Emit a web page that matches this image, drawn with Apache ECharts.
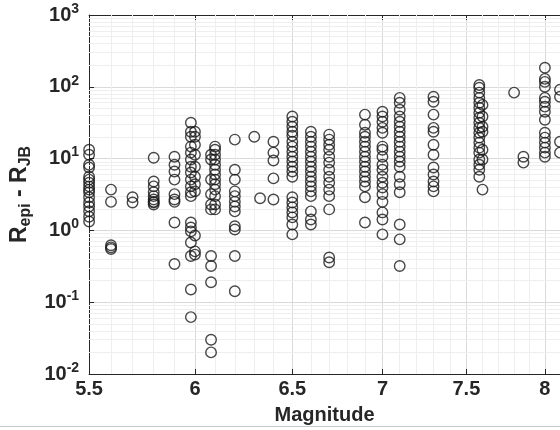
<!DOCTYPE html>
<html>
<head>
<meta charset="utf-8">
<script src="https://cdn.jsdelivr.net/npm/echarts@6/dist/echarts.min.js"></script>
<style>
html, body { margin: 0; padding: 0; background: #fff; }
#main { width: 560px; height: 430px; }
</style>
</head>
<body>
<div id="main"></div>
<script>
// magnitude of each column of points
var magnitudes = [5.5, 5.6, 5.7, 5.8, 5.9, 5.98, 6.0, 6.08, 6.1, 6.2, 6.3, 6.33, 6.4, 6.5, 6.6, 6.7,
    6.9, 7.0, 7.1, 7.3, 7.58, 7.6, 7.8, 7.86, 8.0, 8.1];
// Repi - RJB values for each column (same order)
var distances = [
    [13.3, 11.3, 8.2, 7.5, 5.6, 5.1, 4.6, 4.1, 3.7, 3.4, 2.9, 2.45, 2.15, 1.85, 1.55, 1.33],
    [3.7, 2.5, 0.62, 0.58, 0.55],
    [2.9, 2.45],
    [10.3, 4.8, 4.1, 3.4, 3.0, 2.7, 2.5, 2.45, 2.3],
    [10.6, 8.2, 6.6, 5.1, 3.2, 2.7, 2.5, 1.29, 0.34],
    [31.6, 23.7, 20.2, 14.7, 12.1, 9.7, 7.7, 6.4, 5.1, 4.1, 3.4, 3.0, 1.29, 1.1, 0.97, 0.68, 0.44, 0.15, 0.062],
    [23.7, 20.2, 15.6, 11.3, 7.7, 5.6, 4.4, 3.5, 0.85, 0.51, 0.46],
    [11.3, 9.7, 5.1, 3.2, 2.3, 1.96, 0.44, 0.32, 0.19, 0.03, 0.02],
    [14.7, 13.3, 11.3, 9.7, 8.2, 7.0, 6.0, 5.1, 4.4, 3.7, 3.0, 2.3, 1.96],
    [18.4, 7.0, 5.1, 3.5, 3.0, 2.5, 2.15, 1.84, 1.14, 1.03, 0.44, 0.142],
    [20.2],
    [2.8],
    [17.2, 12.1, 9.4, 5.3, 2.7],
    [38.5, 32.6, 27.8, 23.7, 20.9, 17.2, 14.7, 12.5, 10.6, 9.1, 7.7, 6.6, 5.6, 2.9, 2.45, 2.09, 1.78, 1.52, 1.21, 0.88],
    [23.7, 20.2, 17.2, 14.7, 12.5, 10.6, 9.1, 7.7, 6.6, 5.6, 4.8, 4.1, 3.5, 3.0, 1.84, 1.42, 1.21],
    [21.6, 18.4, 15.6, 13.3, 10.6, 8.8, 7.0, 5.6, 4.6, 3.7, 3.0, 1.96, 0.42, 0.36],
    [41, 29.6, 22.9, 20.2, 17.2, 14.7, 12.5, 10.6, 9.1, 7.7, 6.6, 5.6, 4.8, 4.1, 2.9, 1.29],
    [45, 38.5, 32.6, 26.8, 22.9, 14.7, 13.3, 10.6, 8.2, 7.0, 5.6, 4.6, 3.95, 3.2, 2.5, 1.78, 1.42, 0.88],
    [70, 60, 48, 38.5, 32.6, 27.8, 23.7, 20.2, 17.2, 14.7, 12.5, 10.6, 9.1, 7.7, 5.6, 4.4, 3.4, 1.21, 0.75, 0.32],
    [72.6, 62, 41, 26.8, 23.7, 15.6, 11.3, 7.5, 6.0, 4.8, 4.1, 3.5],
    [106, 97, 83, 70, 60, 51, 43.6, 37.1, 31.6, 26.9, 22.9, 19.6, 16.7, 14.2, 12.1, 9.7, 8.2, 7.0, 5.6],
    [56, 38.5, 27.8, 23.7, 13.3, 9.7, 3.7],
    [83],
    [10.6, 8.8],
    [184, 129, 117, 100, 70, 62, 53, 45, 34.8, 22.9, 19.6, 16.7, 14.2, 12.1, 10.6],
    [91, 72.6, 17.2, 12.1]
];
var xTicks = [5.5, 6, 6.5, 7, 7.5, 8];

var points = [];
magnitudes.forEach(function (m, i) {
    distances[i].forEach(function (d) { points.push([m, d]); });
});

// minor grid lines (matlab style)
var minorLines = [];
for (var k = 56; k <= 81; k++) {
    if (k % 5) minorLines.push({ xAxis: k / 10 });
}
for (var e = -2; e < 3; e++) {
    for (var d = 2; d < 10; d++) minorLines.push({ yAxis: d * Math.pow(10, e) });
}

var font = 'Liberation Sans';
var ink = '#262626';

var myChart = echarts.init(document.getElementById('main'));
var option = {
    animation: false,
    grid: { left: 86, right: 0, top: 15, bottom: 55 },
    graphic: [{
        type: 'line',
        shape: { x1: 0, y1: 426.5, x2: 560, y2: 426.5 },
        style: { stroke: '#c8c8c8', lineWidth: 1 }
    }],
    xAxis: [
        {
            type: 'log',
            min: 5.5,
            max: 8.1,
            name: 'Magnitude',
            nameLocation: 'middle',
            nameGap: 31,
            nameTextStyle: { fontFamily: font, fontWeight: 'bold', fontSize: 20, color: ink },
            axisLine: { lineStyle: { color: ink, width: 1 } },
            axisTick: { inside: true, length: 5, customValues: xTicks, lineStyle: { color: ink } },
            axisLabel: {
                customValues: xTicks,
                margin: 5,
                fontFamily: font, fontWeight: 'bold', fontSize: 20, color: ink,
                formatter: function (v) { return String(Math.round(v * 10) / 10); }
            },
            splitLine: { show: true, lineStyle: { color: '#dadada', width: 1 } }
        },
        {
            type: 'log',
            position: 'top',
            min: 5.5,
            max: 8.1,
            axisLine: { lineStyle: { color: ink, width: 1 } },
            axisTick: { inside: true, length: 5, customValues: xTicks, lineStyle: { color: ink } },
            axisLabel: { show: false },
            splitLine: { show: false }
        }
    ],
    yAxis: {
        type: 'log',
        logBase: 10,
        min: 0.01,
        max: 1000,
        name: 'R{sub|epi} - R{sub|JB}',
        nameLocation: 'middle',
        nameGap: 50,
        nameTextStyle: {
            fontFamily: font, fontWeight: 'bold', fontSize: 23, color: ink,
            rich: { sub: { fontFamily: font, fontWeight: 'bold', fontSize: 16, color: ink, padding: [12, 0, 0, 0] } }
        },
        axisLine: { lineStyle: { color: ink, width: 1 } },
        axisTick: { inside: true, length: 5, lineStyle: { color: ink } },
        axisLabel: {
            margin: 10,
            fontFamily: font, fontWeight: 'bold', fontSize: 20, color: ink,
            formatter: function (v) {
                return '10{sup|' + Math.round(Math.log10(v)) + '}';
            },
            rich: { sup: { fontFamily: font, fontWeight: 'bold', fontSize: 14, color: ink, padding: [0, 0, 12, 0] } }
        },
        splitLine: { show: true, lineStyle: { color: '#dadada', width: 1 } }
    },
    series: [
        {
            type: 'scatter',
            data: [],
            silent: true,
            markLine: {
                silent: true,
                z: 1,
                symbol: 'none',
                label: { show: false },
                lineStyle: { color: '#eeeeee', width: 1, type: 'solid' },
                data: minorLines
            }
        },
        {
            type: 'scatter',
            data: points,
            z: 3,
            symbol: 'circle',
            symbolSize: 10.5,
            itemStyle: { color: 'rgba(0,0,0,0)', borderColor: '#1a1a1a', borderWidth: 1.4 }
        }
    ]
};
myChart.setOption(option);
</script>
</body>
</html>
